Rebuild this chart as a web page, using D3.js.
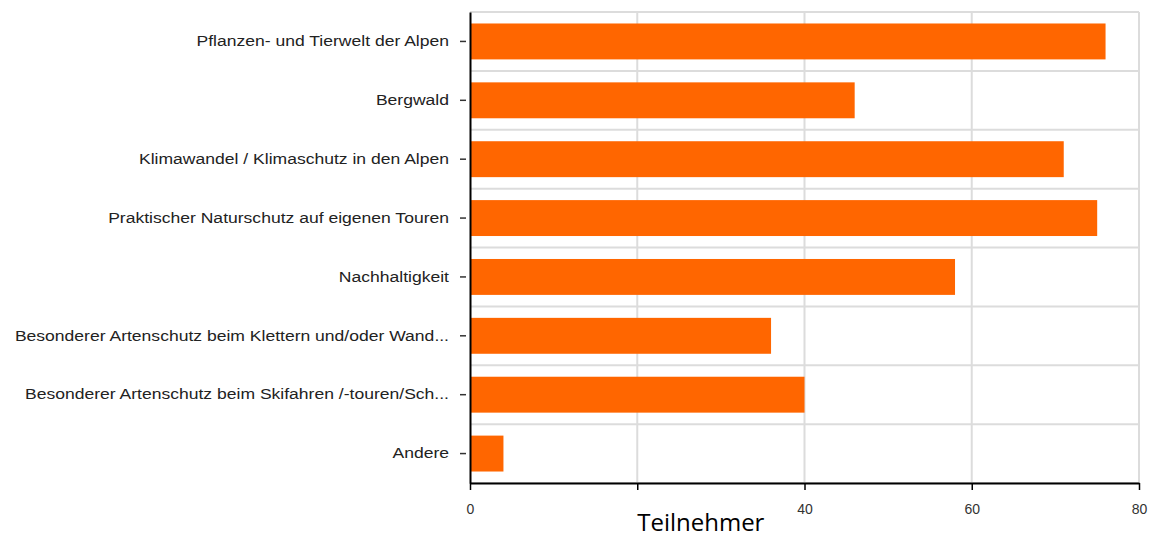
<!DOCTYPE html>
<html>
<head>
<meta charset="utf-8">
<script src="https://cdn.jsdelivr.net/npm/d3@7"></script>
<style>
  body { margin: 0; background: #fff; }
</style>
</head>
<body>
<div id="chart"></div>
<script>
// data
var categories = [
    "Pflanzen- und Tierwelt der Alpen",
    "Bergwald",
    "Klimawandel / Klimaschutz in den Alpen",
    "Praktischer Naturschutz auf eigenen Touren",
    "Nachhaltigkeit",
    "Besonderer Artenschutz beim Klettern und/oder Wand...",
    "Besonderer Artenschutz beim Skifahren /-touren/Sch...",
    "Andere"
];
var values = [76, 46, 71, 75, 58, 36, 40, 4];
var xTicks = [0, 20, 40, 60, 80];
var hiddenTickLabels = [20];   // covered by the axis title in the source
var xTitle = "Teilnehmer";

var full_width = 1162, full_height = 539;
var margin = {top: 12, right: 23, bottom: 56, left: 470};
var width = full_width - margin.left - margin.right,
    height = full_height - margin.top - margin.bottom;

var svg = d3.select("#chart")
    .append("svg")
    .attr("width", full_width)
    .attr("height", full_height)
    .append("g")
    .attr("transform", "translate(" + margin.left + "," + margin.top + ")");

var x = d3.scaleLinear()
    .domain([0, 80])
    .range([0, width]);

var y = d3.scaleBand()
    .domain(categories)
    .range([0, height])
    .paddingInner(0.39)
    .paddingOuter(0.195);

// horizontal grid lines (band boundaries)
var rowEdges = categories.map(function(d) { return y(d) - y.step() * y.paddingInner() / 2; });
rowEdges.push(height);
svg.selectAll(".hgrid")
    .data(rowEdges)
    .enter().append("line")
    .attr("class", "hgrid")
    .attr("x1", 0).attr("x2", width)
    .attr("y1", function(d) { return d; })
    .attr("y2", function(d) { return d; })
    .style("stroke", "#dcdcdc")
    .style("stroke-width", 2);

// vertical grid lines
svg.selectAll(".vgrid")
    .data(xTicks.slice(1))
    .enter().append("line")
    .attr("class", "vgrid")
    .attr("x1", function(d) { return x(d); })
    .attr("x2", function(d) { return x(d); })
    .attr("y1", 0).attr("y2", height)
    .style("stroke", "#dcdcdc")
    .style("stroke-width", 2);

// bars
svg.selectAll(".bar")
    .data(values)
    .enter().append("rect")
    .attr("class", "bar")
    .attr("x", 0)
    .attr("y", function(d, i) { return y(categories[i]); })
    .attr("width", function(d) { return x(d); })
    .attr("height", y.bandwidth())
    .style("fill", "#ff6600");

// y axis
var yAxis = svg.append("g")
    .call(d3.axisLeft(y).tickSize(0).tickPadding(0));
yAxis.select(".domain")
    .style("stroke", "#000")
    .style("stroke-width", 2);
yAxis.selectAll(".tick").append("line")
    .attr("x1", -10).attr("x2", -4)
    .style("stroke", "#333")
    .style("stroke-width", 1.5);
// the labels in the source are stretched sideways
yAxis.selectAll("text")
    .attr("x", 0)
    .attr("transform", "translate(-21,0) scale(1.17,1)")
    .style("font", "15px 'Liberation Sans', Arial, sans-serif")
    .style("fill", "#222");

// x axis
var xAxis = svg.append("g")
    .attr("transform", "translate(0," + height + ")")
    .call(d3.axisBottom(x)
        .tickValues(xTicks)
        .tickFormat(function(d) { return hiddenTickLabels.indexOf(d) >= 0 ? "" : d; })
        .tickSizeOuter(0).tickSizeInner(7).tickPadding(14));
xAxis.select(".domain")
    .style("stroke", "#000")
    .style("stroke-width", 2);
xAxis.selectAll(".tick line")
    .style("stroke", "#000")
    .style("stroke-width", 1.5);
xAxis.selectAll("text")
    .style("font", "14px 'Liberation Sans', Arial, sans-serif")
    .style("fill", "#333");

// axis title
svg.append("text")
    .attr("transform", "translate(" + (x(27.6)) + "," + (height + 48) + ")")
    .attr("text-anchor", "middle")
    .style("font", "24px 'Open Sans', sans-serif")
    .style("fill", "#000")
    .text(xTitle);
</script>
</body>
</html>
